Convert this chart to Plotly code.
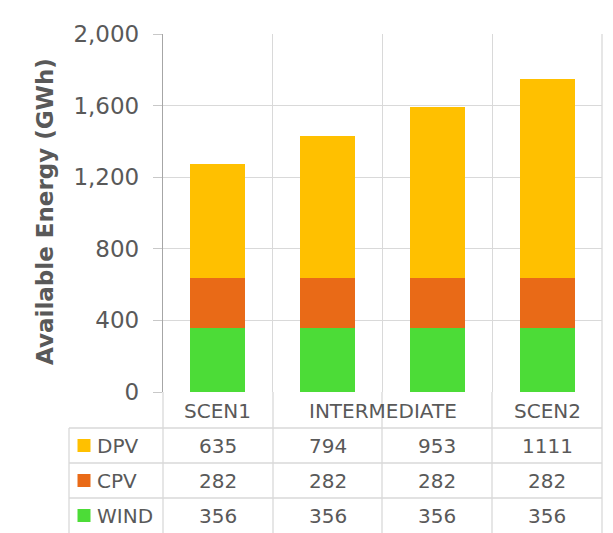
import plotly.graph_objects as go

# ---------------- data ----------------
categories = ["SCEN1", "INTERMEDIATE A", "INTERMEDIATE B", "SCEN2"]
header_labels = ["SCEN1", "INTERMEDIATE", "SCEN2"]
header_spans = [(0, 0), (1, 2), (3, 3)]
series_names = ["DPV", "CPV", "WIND"]          # table order (top to bottom)
dpv = [635, 794, 953, 1111]
cpv = [282, 282, 282, 282]
wind = [356, 356, 356, 356]
y_ticks = [0, 400, 800, 1200, 1600, 2000]
y_title = "Available Energy (GWh)"

# ---------------- style ----------------
colors = {"DPV": "#FFC000", "CPV": "#E96A17", "WIND": "#4CDC37"}
values = {"DPV": dpv, "CPV": cpv, "WIND": wind}
TXT = "#595959"
GRID = "#d9d9d9"
FONT = "DejaVu Sans"
TABLE_SIZE = 20

OFF = 8                      # page body margin
W, H = 613 - OFF, 533 - OFF
L, R, T, B = 163, 602, 34, 392   # plot area in screen pixels


def px(x):
    return (x - L) / (R - L)


def py(y):
    return (B - y) / (B - T)


fig = go.Figure()
for name in ["WIND", "CPV", "DPV"]:
    fig.add_trace(go.Bar(
        x=categories, y=values[name], name=name,
        marker=dict(color=colors[name], line=dict(width=0)),
        showlegend=False,
    ))

shapes = []
annotations = []

# table grid lines
for yy in [428, 463, 498]:
    shapes.append(dict(type="line", xref="paper", yref="paper",
                       x0=px(69), x1=px(R), y0=py(yy), y1=py(yy),
                       line=dict(color=GRID, width=1.3)))
for xx in [163, 273, 382, 492, 602]:
    shapes.append(dict(type="line", xref="paper", yref="paper",
                       x0=px(xx), x1=px(xx), y0=py(B), y1=py(540),
                       line=dict(color=GRID, width=1.3)))
shapes.append(dict(type="line", xref="paper", yref="paper",
                   x0=px(69), x1=px(69), y0=py(428), y1=py(540),
                   line=dict(color=GRID, width=1.3)))
# right border of plot area
shapes.append(dict(type="line", xref="paper", yref="paper",
                   x0=px(R), x1=px(R), y0=py(T), y1=py(B),
                   line=dict(color=GRID, width=1.3)))

# header row
for lab, (a, b) in zip(header_labels, header_spans):
    annotations.append(dict(x=(a + b) / 2, xref="x", y=py(411), yref="paper",
                            text=lab, showarrow=False,
                            font=dict(size=TABLE_SIZE, color=TXT, family=FONT),
                            xanchor="center", yanchor="middle"))

row_centers = [445.5, 480.5, 515.5]
for name, yc in zip(series_names, row_centers):
    shapes.append(dict(type="rect", xref="paper", yref="paper",
                       x0=px(77.5), x1=px(90.5), y0=py(yc - 6.5), y1=py(yc + 6.5),
                       fillcolor=colors[name], line=dict(width=0)))
    annotations.append(dict(x=px(95), xref="paper", y=py(yc), yref="paper",
                            text=name, showarrow=False,
                            font=dict(size=TABLE_SIZE, color=TXT, family=FONT),
                            xanchor="left", yanchor="middle"))
    for i, v in enumerate(values[name]):
        annotations.append(dict(x=i, xref="x", y=py(yc), yref="paper",
                                text=str(v), showarrow=False,
                                font=dict(size=TABLE_SIZE, color=TXT, family=FONT),
                                xanchor="center", yanchor="middle"))

# y axis title
annotations.append(dict(x=px(45), xref="paper", y=py(212), yref="paper",
                        text="<b>" + y_title + "</b>", textangle=-90,
                        showarrow=False,
                        font=dict(size=23, color=TXT, family=FONT),
                        xanchor="center", yanchor="middle"))

fig.update_layout(
    width=W, height=H,
    margin=dict(l=L - OFF, r=W - (R - OFF), t=T - OFF, b=H - (B - OFF),
                autoexpand=False),
    paper_bgcolor="white", plot_bgcolor="white",
    barmode="stack", bargap=0.5,
    font=dict(family=FONT, color=TXT),
    shapes=shapes, annotations=annotations,
    xaxis=dict(type="category", tickson="boundaries", showgrid=True,
               gridcolor=GRID, gridwidth=1.3, showticklabels=False,
               ticks="", showline=False, zeroline=False, fixedrange=True),
    yaxis=dict(range=[0, 2000], tickvals=y_ticks, tickformat=",",
               showgrid=True, gridcolor=GRID, gridwidth=1.3,
               ticks="outside", ticklen=9, tickcolor="#c8c8c8", tickwidth=1.3,
               showline=True, linecolor="#a6a6a6", linewidth=1.3,
               zeroline=False, ticklabelstandoff=9,
               tickfont=dict(size=23, color=TXT, family=FONT)),
)

fig.write_html("out.html")
